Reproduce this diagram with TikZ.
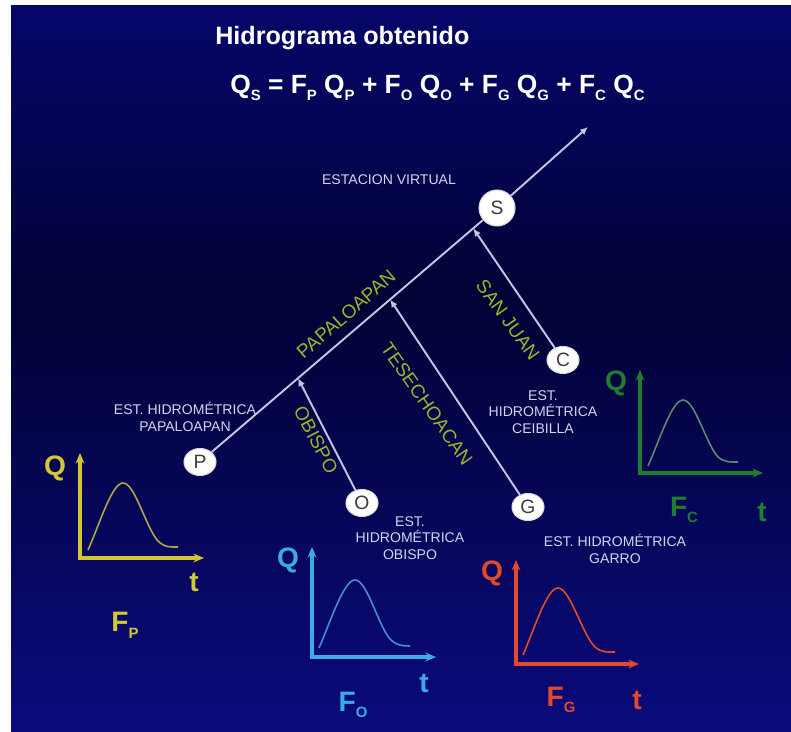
\documentclass[tikz,border=0pt]{standalone}
\usepackage{fontspec}
\setmainfont{Liberation Sans}
\usetikzlibrary{arrows.meta,calc,shapes.geometric}
\definecolor{bgtop}{HTML}{06066A}
\definecolor{bgmid}{HTML}{020236}
\definecolor{bgbottom}{HTML}{0A0A7C}
\definecolor{riverline}{HTML}{C4C4E4}
\definecolor{rivergreen}{HTML}{9CB428}
\definecolor{labelgrey}{HTML}{D4D4EE}
\definecolor{lettergrey}{HTML}{3C3C3C}
\definecolor{graphP}{HTML}{D2C836}
\definecolor{curveP}{HTML}{ACA842}
\definecolor{graphO}{HTML}{3CAAE4}
\definecolor{curveO}{HTML}{4C8CD0}
\definecolor{graphG}{HTML}{E24A2A}
\definecolor{graphC}{HTML}{1E7E2E}
\definecolor{curveC}{HTML}{5A8A66}

\newcommand\idx[1]{\raisebox{-0.45ex}{\fontsize{8.5}{8.5}\selectfont #1}}

\begin{document}
\begin{tikzpicture}[x=0.02cm, y=-0.02cm, >=Stealth,
    station/.style={ellipse, fill=white, draw=white!70!gray, line width=0.6pt, text=lettergrey,
        inner sep=0pt, minimum width=0.64cm, minimum height=0.54cm, font=\fontsize{11}{11}\selectfont},
    river/.style={riverline, line width=1.1pt},
    rivername/.style={text=rivergreen, inner sep=0pt, font=\fontsize{10.8}{10.8}\selectfont},
    stationtext/.style={text=labelgrey, align=center, inner sep=0pt, font=\fontsize{8}{9.3}\selectfont},
    axis/.style={line width=1.8pt, {Stealth[length=6pt,width=5pt]}-{Stealth[length=6pt,width=5pt]}},
    hydro/.style={line width=0.9pt},
    axislabel/.style={inner sep=0pt, font=\bfseries\fontsize{16}{16}\selectfont},
    junction/.style={-{Latex[length=4.5pt,width=4pt]}},
]

    % Background
    \useasboundingbox (0,0) rectangle (791,732);
    \shade[top color=bgtop, bottom color=bgmid] (11,6) rectangle (791,300);
    \shade[top color=bgmid, bottom color=bgbottom] (11,299) rectangle (791,732);

    % Title and formula
    \node[anchor=west, inner sep=0pt, text=white, font=\bfseries\fontsize{14.3}{14.3}\selectfont]
        (titulo) at (215,38) {Hidrograma obtenido};
    \node[anchor=west, inner sep=0pt, text=white, font=\bfseries\fontsize{15}{15}\selectfont]
        (formula) at (230,88) {Q\idx{S} = F\idx{P} Q\idx{P} + F\idx{O} Q\idx{O} + F\idx{G} Q\idx{G} + F\idx{C} Q\idx{C}};

    % Stations
    \node[station] (P) at (200,462) {P};
    \node[station] (O) at (362,503) {O};
    \node[station] (G) at (528,507) {G};
    \node[station] (C) at (563,360) {C};
    \node[station, circle, minimum size=0.72cm] (S) at (497,208) {S};
    \coordinate (salida) at (588,127);

    % Main river and tributaries
    \coordinate (jO) at ($(P.center)!0.33!(S.center)$);
    \coordinate (jG) at ($(P.center)!0.64!(S.center)$);
    \coordinate (jC) at ($(P.center)!0.92!(S.center)$);
    \draw[river] (P) -- (S);
    \draw[river, junction] (S) -- (salida);
    \draw[river, junction] (O) -- (jO);
    \draw[river, junction] (G) -- (jG);
    \draw[river, junction] (C) -- (jC);

    % River names
    \node[rivername, rotate=41] (papaloapan) at (346,314) {PAPALOAPAN};
    \node[rivername, rotate=-62] (obispo) at (316,440) {OBISPO};
    \node[rivername, rotate=-55] (tesechoacan) at (427,404) {TESECHOACAN};
    \node[rivername, rotate=-54] (sanjuan) at (508,320) {SAN JUAN};

    % Station names
    \node[stationtext] (virtual) at (389,180) {ESTACION VIRTUAL};
    \node[stationtext] (estP) at (185,417) {EST. HIDROMÉTRICA\\PAPALOAPAN};
    \node[stationtext] (estO) at (410,538) {EST.\\HIDROMÉTRICA\\OBISPO};
    \node[stationtext] (estC) at (543,412) {EST.\\HIDROMÉTRICA\\CEIBILLA};
    \node[stationtext] (estG) at (615,549) {EST. HIDROMÉTRICA\\GARRO};

    % Hydrograph P
    \begin{scope}[shift={(80,558)}, graphP]
        \draw[axis] (0,-105) -- (0,0) -- (124,0);
        \draw[hydro, curveP] (8,-8) .. controls (20,-35) and (32,-75) .. (43,-75)
            .. controls (55,-75) and (66,-30) .. (78,-17) .. controls (85,-10) and (92,-11) .. (98,-11);
        \node[axislabel] (qP) at (-25,-90) {Q};
        \node[axislabel] (tP) at (114,24) {t};
        \node[axislabel] (fP) at (45,67) {F\idx{P}};
    \end{scope}

    % Hydrograph O
    \begin{scope}[shift={(312,657)}, graphO]
        \draw[axis] (0,-110) -- (0,0) -- (124,0);
        \draw[hydro, curveO] (7,-9) .. controls (19,-37) and (32,-77) .. (43,-77)
            .. controls (55,-77) and (66,-32) .. (78,-18) .. controls (85,-11) and (92,-11) .. (98,-11);
        \node[axislabel] (qO) at (-24,-97) {Q};
        \node[axislabel] (tO) at (112,26) {t};
        \node[axislabel] (fO) at (41,48) {F\idx{O}};
    \end{scope}

    % Hydrograph G
    \begin{scope}[shift={(516,664)}, graphG]
        \draw[axis] (0,-104) -- (0,0) -- (123,0);
        \draw[hydro] (7,-9) .. controls (19,-37) and (31,-76) .. (42,-76)
            .. controls (54,-76) and (66,-30) .. (79,-17) .. controls (86,-11) and (93,-12) .. (99,-12);
        \node[axislabel] (qG) at (-24,-91) {Q};
        \node[axislabel] (tG) at (121,36) {t};
        \node[axislabel] (fG) at (45,36) {F\idx{G}};
    \end{scope}

    % Hydrograph C
    \begin{scope}[shift={(640,473)}, graphC]
        \draw[axis] (0,-103) -- (0,0) -- (123,0);
        \draw[hydro, curveC] (8,-7) .. controls (20,-34) and (32,-73) .. (43,-73)
            .. controls (55,-73) and (66,-29) .. (78,-16) .. controls (85,-10) and (92,-11) .. (98,-11);
        \node[axislabel] (qC) at (-24,-90) {Q};
        \node[axislabel] (tC) at (122,39) {t};
        \node[axislabel] (fC) at (44,37) {F\idx{C}};
    \end{scope}

\end{tikzpicture}
\end{document}
